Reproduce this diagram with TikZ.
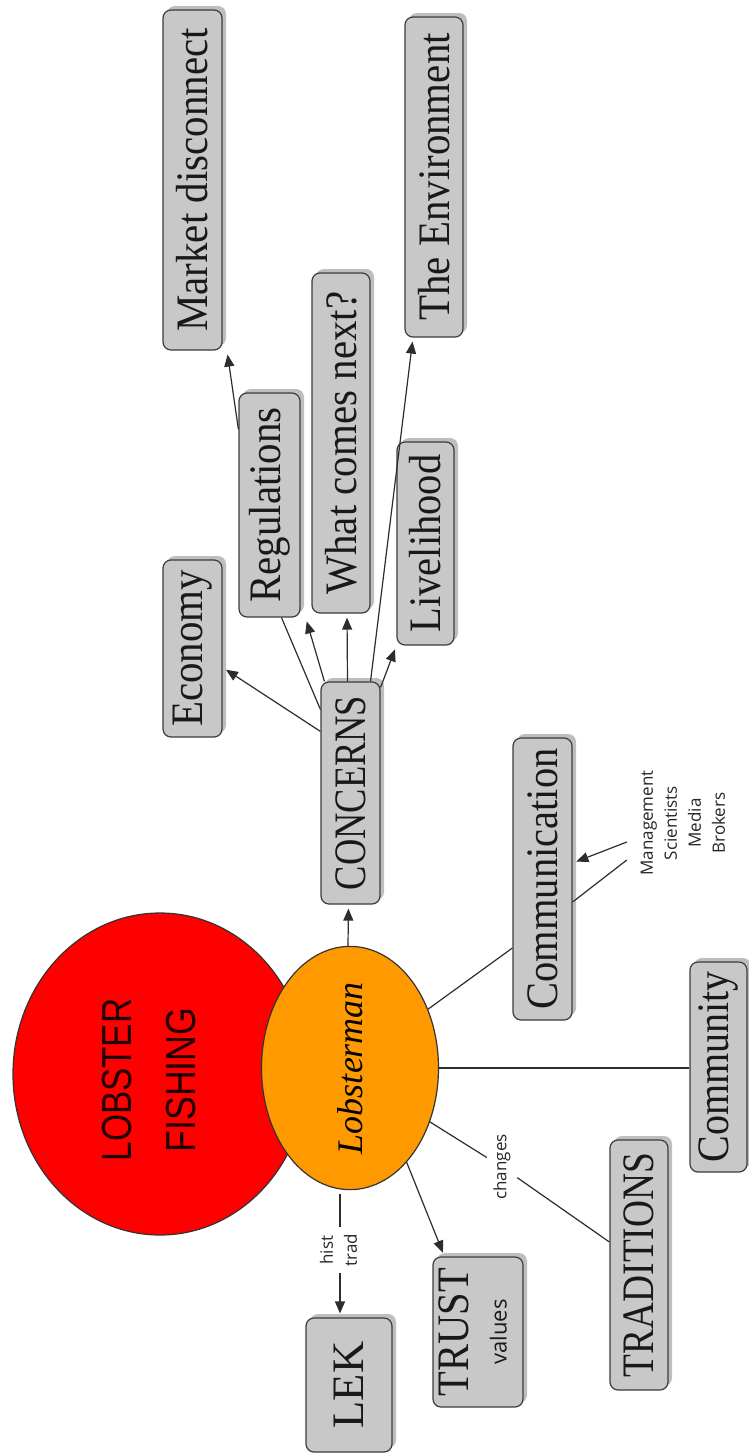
\documentclass[tikz,border=0pt]{standalone}
\usepackage{fontspec}
\setmainfont{Liberation Serif}
\newfontfamily\notefont{Open Sans}
\newfontfamily\headfont{Liberation Sans}
\usepackage{graphicx}
\usetikzlibrary{arrows.meta,shadows,shapes.geometric,calc}

\definecolor{boxfill}{RGB}{200,200,200}
\definecolor{boxline}{RGB}{60,60,60}
\definecolor{shadowgray}{RGB}{190,190,190}
\definecolor{fishred}{RGB}{255,0,0}
\definecolor{lobsterorange}{RGB}{255,153,0}
\definecolor{inkdark}{RGB}{30,0,0}
\definecolor{linegray}{RGB}{45,45,45}

% text set upright, read from bottom to top
\newcommand{\up}[1]{\rotatebox{90}{#1}}
% upright label, narrowed along the reading direction
\newcommand{\lbl}[2]{\rotatebox{90}{\scalebox{#1}[1]{#2}}}

\begin{document}
\begin{tikzpicture}[x=1pt,y=-1pt,
  box/.style={draw=boxline, line width=1.2pt, fill=boxfill, rounded corners=8pt,
    inner sep=0pt, text=black!90, font=\fontsize{45}{48}\selectfont,
    drop shadow={shadow xshift=4pt, shadow yshift=4pt, fill=shadowgray, opacity=1}},
  link/.style={draw=linegray, line width=1.2pt},
  arr/.style={link, -{Triangle[length=12pt,width=10pt]}, shorten >=4pt},
  note/.style={font=\notefont\fontsize{17}{24}\selectfont, inner sep=0pt, text=black!85}
]
\fill[white] (0,0) rectangle (749,1454);
\useasboundingbox (0,0) rectangle (749,1454);

% central figures
\node[ellipse, draw=black!80, line width=1.2pt, fill=fishred, minimum width=294pt,
      minimum height=322pt, inner sep=0pt] (fish) at (160,1074) {};
\node[text=inkdark, font=\headfont\fontsize{42}{64}\selectfont, inner sep=0pt]
  (fishtext) at (151,1080)
  {\up{\begin{tabular}{@{}c@{}}\scalebox{0.83}[1]{LOBSTER}\\\scalebox{0.85}[1]{FISHING}\end{tabular}}};
\node[ellipse, draw=black!80, line width=1.2pt, fill=lobsterorange, minimum width=177pt,
      minimum height=237pt, inner sep=0pt, font=\fontsize{36}{40}\selectfont\itshape]
  (ell) at (350,1068) {\up{Lobsterman}};

% concept boxes
\node[box, minimum width=59pt, minimum height=340pt] (mkt)    at (192.5,180)  {\lbl{0.91}{Market disconnect}};
\node[box, minimum width=59pt, minimum height=177pt] (eco)    at (192.5,648.5){\lbl{0.91}{Economy}};
\node[box, minimum width=61pt, minimum height=224pt] (reg)    at (269.5,505)  {\lbl{0.91}{Regulations}};
\node[box, minimum width=58pt, minimum height=340pt] (what)   at (341,443)    {\lbl{0.91}{What comes next?}};
\node[box, minimum width=58pt, minimum height=320pt] (env)    at (434,177)    {\lbl{0.91}{The Environment}};
\node[box, minimum width=57pt, minimum height=203pt] (live)   at (425.5,543.5){\lbl{0.9}{Livelihood}};
\node[box, minimum width=59pt, minimum height=222pt] (conc)   at (350.5,793)  {\lbl{0.81}{CONCERNS}};
\node[box, minimum width=59pt, minimum height=282pt] (comm)   at (542.5,879)  {\lbl{0.9}{Communication}};
\node[box, minimum width=57pt, minimum height=210pt] (commty) at (718.5,1067) {\lbl{0.89}{Community}};
\node[box, minimum width=58pt, minimum height=250pt] (trad)   at (639,1265)   {\lbl{0.83}{TRADITIONS}};
\node[box, minimum width=90pt, minimum height=150pt] (trust)  at (478,1332)
  {\up{\begin{tabular}{@{}c@{}}\scalebox{0.9}[1]{TRUST}\\[-10pt]{\notefont\fontsize{22}{24}\selectfont values}\end{tabular}}};
\node[box, minimum width=86pt, minimum height=134pt] (lek)    at (349,1385)   {\lbl{0.99}{LEK}};

% linking phrases
\node[note, inner xsep=9pt] (mgmt) at (684,823)
  {\up{\begin{tabular}{@{}c@{}}Management\\Scientists\\Media\\Brokers\end{tabular}}};
\node[note, minimum width=30pt, minimum height=80pt] (chg) at (502,1167) {\up{changes}};
\node[note, minimum width=44pt, minimum height=46pt] (ht) at (340,1250)
  {\up{\begin{tabular}{@{}c@{}}hist\\trad\end{tabular}}};

% connectors from CONCERNS
\draw[arr]  ([xshift=-2pt]ell.north) -- ([xshift=-2pt]conc.south);
\draw[arr]  ([yshift=-50pt]conc.north west) -- ([yshift=-19pt]eco.east);
\draw[link] ([yshift=-28pt]conc.north west) -- ([xshift=12pt]reg.south);
\draw[arr]  ([xshift=4pt]conc.north west) -- ([xshift=5pt]reg.south east);
\draw[arr]  ([xshift=-3pt]conc.north) -- ([xshift=6pt]what.south);
\draw[arr]  ([xshift=20pt]conc.north) -- ([xshift=-21pt]env.south);
\draw[arr]  ([yshift=-6pt]conc.north east) -- (live.south west);
\draw[arr]  ([yshift=-37pt]reg.north west) -- ([xshift=34.5pt]mkt.south);

% connectors from Lobsterman
\draw[link] (ell.37) -- ([yshift=-69pt]comm.west);
\draw[arr]  ([yshift=-19pt]mgmt.west) -- ([yshift=16pt]comm.east);
\draw[link] ([yshift=-37pt]mgmt.west) -- ([yshift=-23pt]comm.east);
\draw[link] (ell.east) -- (ell.east -| commty.west);
\draw[link] (ell.-34) -- (chg);
\draw[link] (chg) -- ([yshift=23pt]trad.west);
\draw[arr]  (ell.-59) -- ([xshift=12pt]trust.north west);
\draw[link] ([yshift=-4pt]ell.south -| ht) -- (ht);
\draw[arr]  (ht) -- (ht |- lek.north);
\end{tikzpicture}
\end{document}
